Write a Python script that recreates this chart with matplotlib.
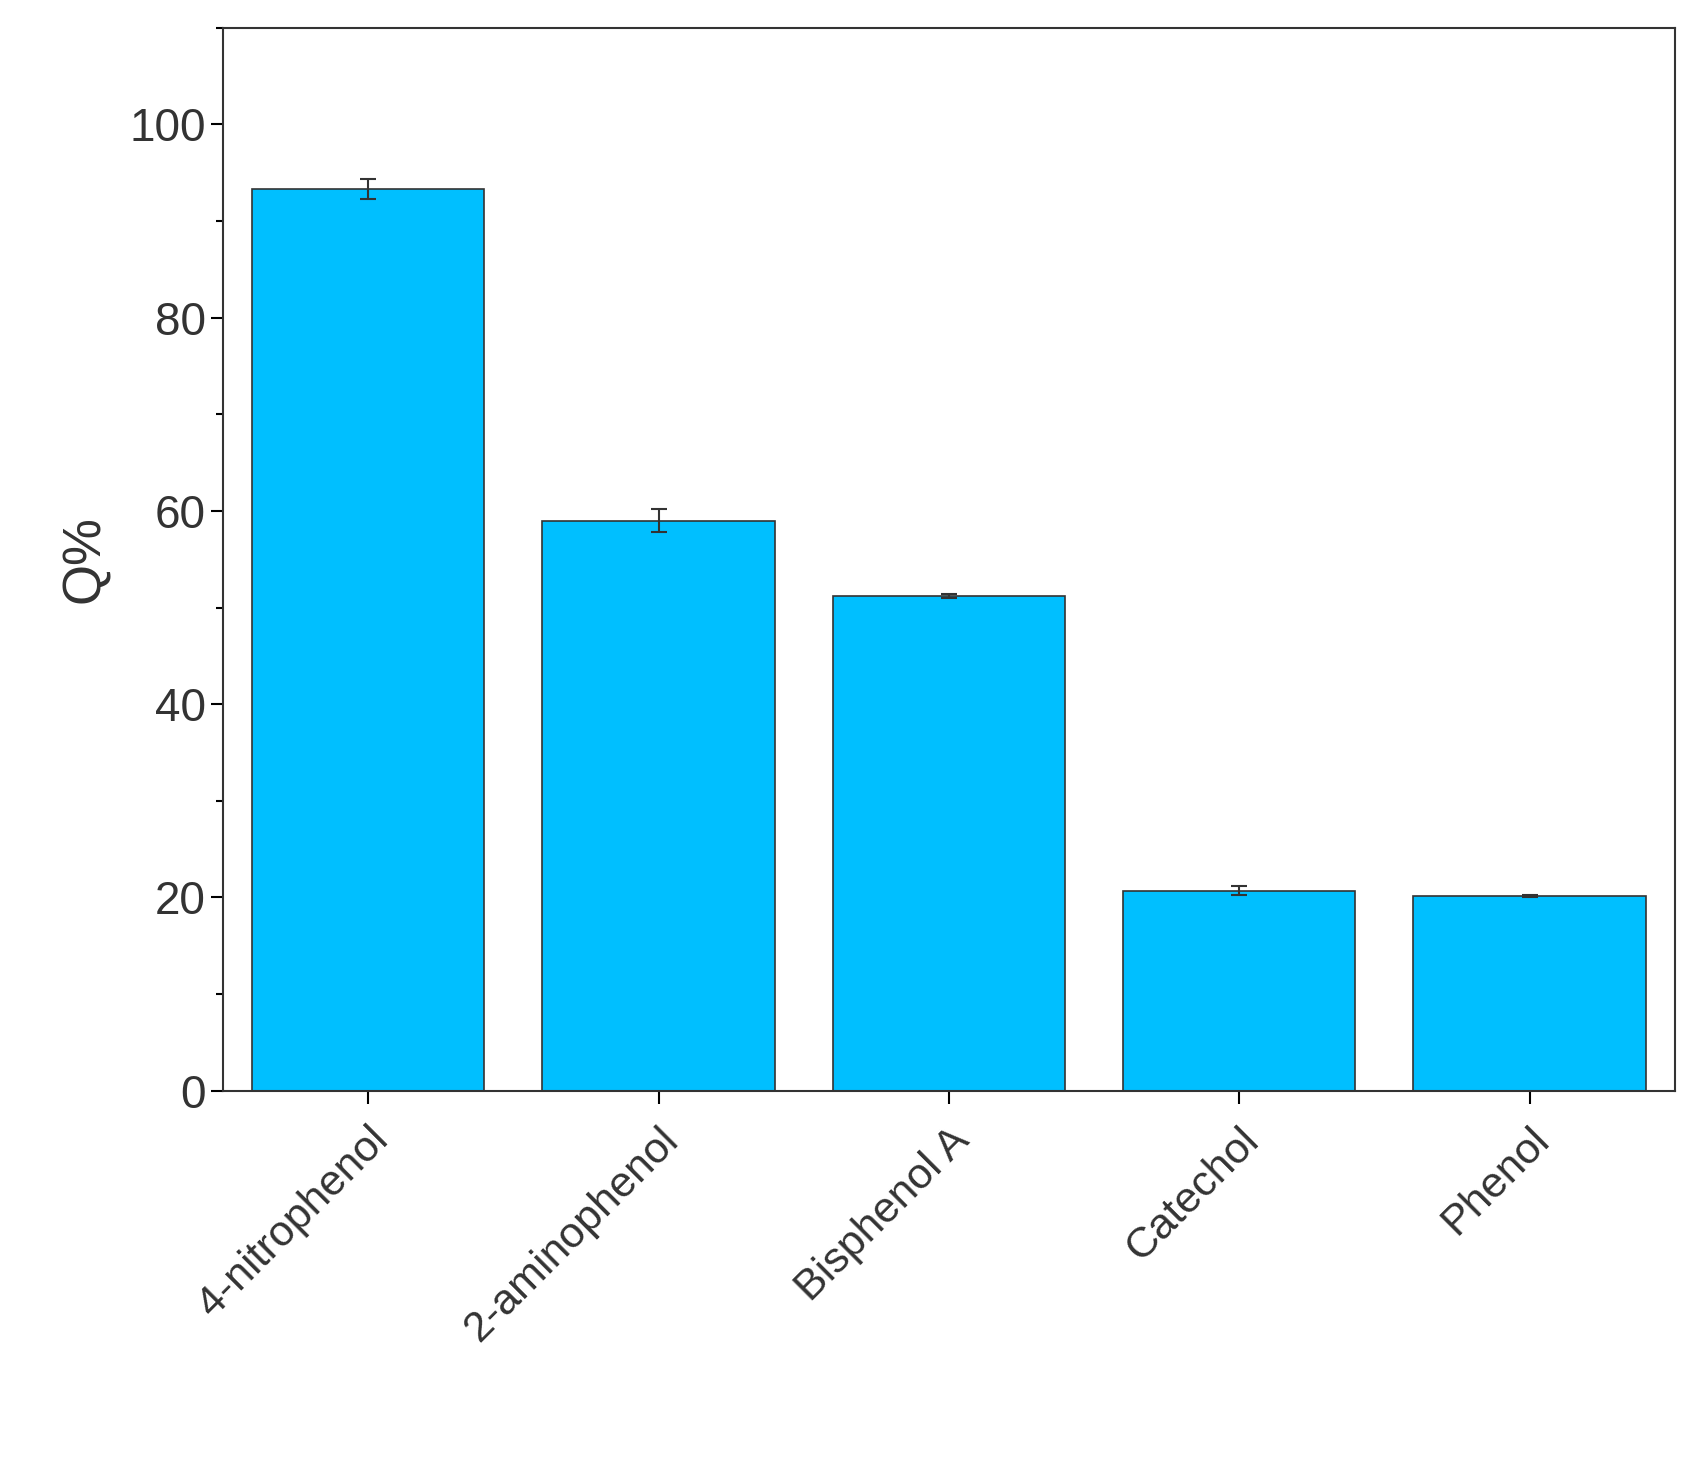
import numpy as np
import matplotlib
matplotlib.use("Agg")
from matplotlib import pyplot as plt
from matplotlib.ticker import MultipleLocator

categories = ["4-nitrophenol", "2-aminophenol", "Bisphenol A", "Catechol", "Phenol"]
q_values = [93.3, 59.0, 51.2, 20.7, 20.1]
q_errors = [1.0, 1.2, 0.2, 0.5, 0.1]

plt.rcParams['font.family'] = ['Liberation Sans', 'DejaVu Sans']
fig = plt.figure(figsize=(17.02, 14.62), dpi=100)
ax = fig.add_axes([0.131, 0.254, 0.853, 0.727])

x = np.arange(len(categories))
ax.bar(x, q_values, width=0.8, color="#00BFFF", edgecolor="#333333", linewidth=1.2,
       yerr=q_errors, capsize=6, error_kw=dict(ecolor="#333333", elinewidth=1.5, capthick=1.5))

ax.set_xlim(-0.5, 4.5)
ax.set_ylim(0, 110)
ax.set_xticks(x)
ax.set_xticklabels(categories, rotation=45, ha="right", rotation_mode="anchor", fontsize=31, color="#333333")
ax.yaxis.set_major_locator(MultipleLocator(20))
ax.yaxis.set_minor_locator(MultipleLocator(10))
ax.tick_params(axis="y", labelsize=33, labelcolor="#333333", length=9, width=1.5, direction="out")
ax.tick_params(axis="y", which="minor", length=5, width=1.5)
ax.tick_params(axis="x", length=9, width=1.5, pad=12)
ax.set_ylabel("Q%", fontsize=38, color="#333333", labelpad=14)
for s in ax.spines.values():
    s.set_linewidth(1.5)
    s.set_color("#333333")

fig.savefig("out.png", dpi=100)
